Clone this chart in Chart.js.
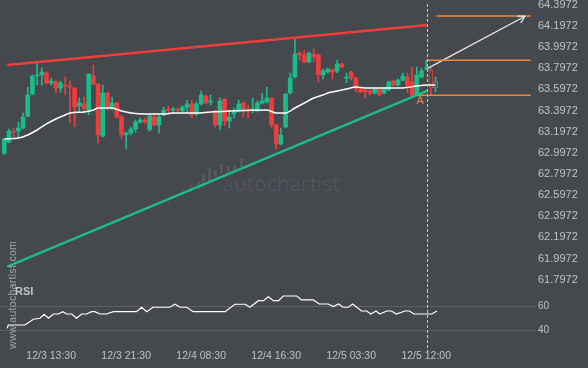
<!DOCTYPE html>
<html><head><meta charset="utf-8">
<script src="https://cdn.jsdelivr.net/npm/chart.js@4.4.1/dist/chart.umd.min.js"></script>
<style>
html,body{margin:0;padding:0;background:#45484d;width:588px;height:368px;overflow:hidden;}
#wrap{position:relative;width:588px;height:368px;}
canvas{position:absolute;left:0;}
#cTop{top:0;}
#cBot{top:290px;}
#wmText{position:absolute;left:223px;top:170px;font:300 20px 'Open Sans',sans-serif;color:#55585d;letter-spacing:0.8px;white-space:nowrap;}
.wb{position:absolute;width:3px;background:#54575c;}
#site{position:absolute;left:6px;top:349px;transform-origin:0 0;transform:rotate(-90deg);font:10.5px 'Liberation Sans',Arial,sans-serif;color:#a3a6a9;white-space:nowrap;line-height:13px;letter-spacing:0.3px;}
#rsiLbl{position:absolute;left:15px;top:285px;font:bold 11px 'Liberation Sans',Arial,sans-serif;color:#c3c6c9;}
</style></head>
<body><div id="wrap">
<div id="wm"></div>
<div id="wmText">autochartist</div>
<canvas id="cTop" width="588" height="290"></canvas>
<canvas id="cBot" width="588" height="78"></canvas>
<div id="rsiLbl">RSI</div>
<div id="site">www.autochartist.com</div>
</div>
<script>
// ---------- DATA ----------
const xLabels   = ['12/3 13:30','12/3 21:30','12/4 08:30','12/4 16:30','12/5 03:30','12/5 12:00'];
const xLabelIdx = [10, 26, 42, 58, 74, 90];
const priceTicks = [64.3972,64.1972,63.9972,63.7972,63.5972,63.3972,63.1972,62.9972,62.7972,62.5972,62.3972,62.1972,61.9972,61.7972];
const rsiTicks = [40, 60];

const open  = [62.995,63.099,63.203,63.203,63.232,63.345,63.553,63.723,63.733,63.752,63.657,63.667,63.610,63.638,63.629,63.610,63.440,63.459,63.402,63.723,63.648,63.156,63.563,63.421,63.468,63.336,63.166,63.184,63.222,63.288,63.307,63.213,63.336,63.260,63.355,63.411,63.402,63.411,63.392,63.430,63.459,63.364,63.459,63.534,63.477,63.392,63.260,63.506,63.298,63.364,63.392,63.468,63.402,63.402,63.392,63.468,63.477,63.515,63.260,63.081,63.241,63.563,63.714,63.941,63.922,63.856,63.931,63.922,63.733,63.761,63.780,63.770,63.837,63.704,63.761,63.704,63.600,63.591,63.581,63.563,63.600,63.563,63.591,63.676,63.638,63.685,63.714,63.667,63.544,63.714,63.789,63.780,63.610];
const high  = [63.128,63.222,63.232,63.288,63.374,63.619,63.733,63.846,63.799,63.761,63.704,63.685,63.676,63.714,63.676,63.610,63.515,63.525,63.742,63.827,63.648,63.638,63.572,63.525,63.477,63.355,63.194,63.241,63.307,63.326,63.326,63.355,63.355,63.355,63.430,63.440,63.430,63.421,63.440,63.496,63.496,63.477,63.581,63.544,63.544,63.402,63.515,63.506,63.402,63.421,63.496,63.477,63.449,63.515,63.487,63.563,63.619,63.515,63.270,63.232,63.553,63.752,64.082,63.950,63.969,63.950,63.979,63.931,63.789,63.799,63.789,63.874,63.846,63.752,63.770,63.714,63.610,63.600,63.600,63.610,63.610,63.619,63.676,63.685,63.695,63.752,63.752,63.808,63.808,63.799,63.874,63.799,63.714];
const low   = [62.977,63.090,63.147,63.147,63.222,63.336,63.544,63.638,63.638,63.648,63.638,63.563,63.572,63.544,63.279,63.241,63.383,63.383,63.355,63.638,63.090,63.147,63.402,63.402,63.326,63.128,63.033,63.166,63.194,63.279,63.270,63.203,63.251,63.184,63.345,63.355,63.374,63.374,63.374,63.374,63.326,63.345,63.449,63.459,63.449,63.241,63.213,63.251,63.232,63.326,63.383,63.336,63.326,63.374,63.383,63.459,63.468,63.232,63.033,63.071,63.232,63.553,63.704,63.874,63.846,63.846,63.856,63.667,63.695,63.752,63.695,63.752,63.799,63.657,63.685,63.572,63.563,63.515,63.544,63.553,63.534,63.553,63.581,63.629,63.629,63.676,63.563,63.534,63.534,63.704,63.780,63.544,63.572];
const close = [63.128,63.203,63.194,63.232,63.336,63.544,63.723,63.733,63.761,63.657,63.676,63.610,63.657,63.629,63.619,63.430,63.468,63.421,63.742,63.648,63.166,63.563,63.430,63.468,63.336,63.166,63.184,63.222,63.288,63.307,63.288,63.345,63.260,63.336,63.402,63.402,63.411,63.402,63.430,63.459,63.355,63.459,63.544,63.468,63.487,63.260,63.487,63.298,63.336,63.383,63.459,63.402,63.392,63.411,63.468,63.487,63.515,63.260,63.081,63.166,63.553,63.704,63.931,63.922,63.856,63.941,63.903,63.733,63.770,63.789,63.761,63.837,63.808,63.714,63.704,63.600,63.572,63.572,63.563,63.600,63.544,63.610,63.667,63.638,63.685,63.723,63.619,63.544,63.733,63.770,63.799,63.610,63.667];
const hollowIdx = [91, 92];

const maIdx = [0,3,5,7,9,11,13,14,17,19,20,23,25,27,30,34,36,41,44,56,58,60,62,64,66,68,69,70,73,75,77,81,85,88,90,92];
const maVal = [63.128,63.137,63.166,63.213,63.270,63.317,63.355,63.374,63.383,63.402,63.421,63.421,63.392,63.374,63.364,63.364,63.374,63.374,63.383,63.402,63.374,63.374,63.421,63.468,63.515,63.544,63.563,63.572,63.600,63.619,63.610,63.610,63.610,63.629,63.638,63.638];

const rsiIdx = [0.64,0.85,4.4,6.2,7.6,8.5,9.4,10.5,11.5,12.5,13.3,14.4,15.4,16.5,17.6,18.6,19.3,20.4,21.8,23.3,28.2,29.3,30.4,31.7,35.3,36.4,37.5,38.9,40.3,47.1,49.2,51.4,52.4,54.2,55.3,56.3,57.4,58.5,59.5,62.4,63.4,65.9,67.2,69.1,70.2,71.3,72.3,73.4,74.3,76.2,77.3,78.2,79.3,80.1,81.6,82.6,83.6,85.5,86.4,87.4,91.2,92.3];
const rsiVal = [41.7,44.4,44.4,49.2,50,53.3,50,53.6,53.6,55.5,53.6,53.6,50,53.6,53.6,55.5,55.5,53.6,53.6,55.5,55.5,59.2,55.5,59.2,59.2,61.7,59.2,59.2,55.5,55.5,61.7,61.7,59.2,64.7,64.7,68,64.7,64.7,68.6,68.6,65.3,65.3,61.9,61.9,59.7,61.9,59.2,59.2,61.9,56.1,56.1,53.6,56.1,53.6,56.1,56.1,53.6,56.1,56.1,53.6,53.6,56.1];

const resistanceLine = [[0.64, 63.827], [90.3, 64.205]];
const supportLine    = [[0.64, 61.921], [90.3, 63.585]];
const targetLevel = [[92.2, 64.290], [112.3, 64.290]];
const upperLevel  = [[90.3, 63.872], [112.3, 63.872]];
const lowerLevel  = [[88.0, 63.541], [112.3, 63.541]];
const forecastArrow = [[90.3, 63.796], [111.1, 64.288]];
const nowIdx = 90.28;
const pointA = {idx: 88.7, price: 63.487, text: 'A'};

// watermark logo bars (decorative)
const wmBars = [[190,185,189],[196.5,181,189],[202,173,187],[208,168,182],[213.5,170,177],[220,164,173],[227,166,172],[233,165,170],[240,159,167]];

// ---------- STYLE ----------
const BG = '#45484d', GREEN = '#1dbb8a', RED = '#f03c3c', ORANGE = '#f0843e', TXT = '#bfc2c5';
const X_MIN = -0.917, X_MAX = 113.21;
const P_MIN = 61.7006, P_MAX = 64.4416;
const R_MIN = 23.58, R_MAX = 73.58;
const FONT = '"Liberation Sans", Arial, sans-serif';

const wm = document.getElementById('wm');
wmBars.forEach(([x, t, b]) => { const d = document.createElement('div'); d.className = 'wb'; d.style.left = x + 'px'; d.style.top = t + 'px'; d.style.height = (b - t) + 'px'; wm.appendChild(d); });

const pts = arr => arr.map(([x, y]) => ({x, y}));
const lineDs = (data, color, width, extra) => Object.assign({type: 'line', data, borderColor: color, borderWidth: width, pointRadius: 0, fill: false, order: 2}, extra || {});

const idx = open.map((_, i) => i);
const colorOf = i => close[i] >= open[i] ? GREEN : RED;
const isHollow = i => hollowIdx.includes(i);

const noPad = s => { s.paddingTop = 0; s.paddingBottom = 0; s.paddingLeft = 0; s.paddingRight = 0; };

const overlayPlugin = {
  id: 'overlay',
  afterDatasetsDraw(chart) {
    const ctx = chart.ctx, xs = chart.scales.x, ys = chart.scales.y;
    const meta = chart.getDatasetMeta(chart.data.datasets.findIndex(d => d.label === 'arrow'));
    const p0 = meta.data[0], p1 = meta.data[1];
    const ang = Math.atan2(p1.y - p0.y, p1.x - p0.x);
    ctx.save();
    ctx.strokeStyle = '#e8e8e8'; ctx.lineWidth = 1.3;
    ctx.beginPath();
    [-1, 1].forEach(s => { ctx.moveTo(p1.x, p1.y); ctx.lineTo(p1.x - 8 * Math.cos(ang + s * 0.5), p1.y - 8 * Math.sin(ang + s * 0.5)); });
    ctx.stroke();
    ctx.fillStyle = ORANGE; ctx.font = '11px ' + FONT;
    ctx.textAlign = 'center'; ctx.textBaseline = 'middle';
    ctx.fillText(pointA.text, xs.getPixelForValue(pointA.idx), ys.getPixelForValue(pointA.price));
    ctx.restore();
  }
};

const xTicks = {autoSkip: false, maxRotation: 0, padding: 0, color: TXT, font: {family: FONT, size: 10.5},
  callback: v => xLabels[xLabelIdx.indexOf(v)]};

new Chart(document.getElementById('cTop'), {
  type: 'bar',
  data: {datasets: [
    {type: 'bar', label: 'wick', data: idx.map(i => ({x: i, y: [low[i], high[i]]})), backgroundColor: idx.map(colorOf), barThickness: 1, grouped: false, order: 20},
    {type: 'bar', label: 'body', data: idx.map(i => ({x: i, y: [open[i], close[i]]})), backgroundColor: idx.map(i => isHollow(i) ? BG : colorOf(i)), borderColor: idx.map(colorOf), borderWidth: idx.map(i => isHollow(i) ? 1 : 0), borderSkipped: false, barThickness: 4, minBarLength: 1, grouped: false, order: 19},
    lineDs(maIdx.map((x, k) => ({x, y: maVal[k]})), '#ffffff', 1.5, {tension: 0.4, cubicInterpolationMode: 'monotone', order: 5}),
    lineDs(pts(resistanceLine), RED, 2.5),
    lineDs(pts(supportLine), GREEN, 2.5),
    lineDs(pts(targetLevel), ORANGE, 1.5),
    lineDs(pts(upperLevel), ORANGE, 1.5),
    lineDs(pts(lowerLevel), ORANGE, 1.5),
    lineDs(pts(forecastArrow), '#e8e8e8', 1.3, {label: 'arrow'}),
    lineDs([{x: nowIdx, y: 64.404}, {x: nowIdx, y: P_MIN}], '#c4c7ca', 1, {borderDash: [3, 2], order: 1})
  ]},
  options: {
    responsive: false, animation: false, devicePixelRatio: 1,
    layout: {padding: 0, autoPadding: false},
    plugins: {legend: {display: false}, tooltip: {enabled: false}},
    scales: {
      x: {type: 'linear', min: X_MIN, max: X_MAX, offset: false, display: false},
      y: {type: 'linear', position: 'right', min: P_MIN, max: P_MAX,
        grid: {display: false, drawTicks: false}, border: {display: false},
        afterBuildTicks: s => { s.ticks = priceTicks.map(v => ({value: v})); },
        afterFit: s => { s.width = 53; noPad(s); },
        ticks: {padding: 3, color: TXT, font: {family: FONT, size: 11}, callback: v => v.toFixed(4)}}
    }
  },
  plugins: [overlayPlugin]
});

new Chart(document.getElementById('cBot'), {
  type: 'line',
  data: {datasets: [
    lineDs(rsiIdx.map((x, k) => ({x, y: rsiVal[k]})), '#ffffff', 1.2, {order: 3}),
    lineDs([{x: nowIdx, y: R_MAX}, {x: nowIdx, y: 22.17}], '#c4c7ca', 1, {borderDash: [3, 2], order: 1, clip: false})
  ]},
  options: {
    responsive: false, animation: false, devicePixelRatio: 1,
    layout: {padding: 0, autoPadding: false},
    plugins: {legend: {display: false}, tooltip: {enabled: false}},
    scales: {
      x: {type: 'linear', min: X_MIN, max: X_MAX, offset: false,
        grid: {display: false, drawTicks: false}, border: {display: false},
        afterBuildTicks: s => { s.ticks = xLabelIdx.map(v => ({value: v})); },
        afterFit: s => { s.height = 18; noPad(s); },
        ticks: xTicks},
      y: {type: 'linear', position: 'right', min: R_MIN, max: R_MAX,
        grid: {display: true, drawTicks: false, color: '#5d6065', lineWidth: 1}, border: {display: false},
        afterBuildTicks: s => { s.ticks = rsiTicks.map(v => ({value: v})); },
        afterFit: s => { s.width = 53; noPad(s); },
        ticks: {padding: 3, color: TXT, font: {family: FONT, size: 10}, callback: v => String(v)}}
    }
  }
});
</script>
</body></html>
